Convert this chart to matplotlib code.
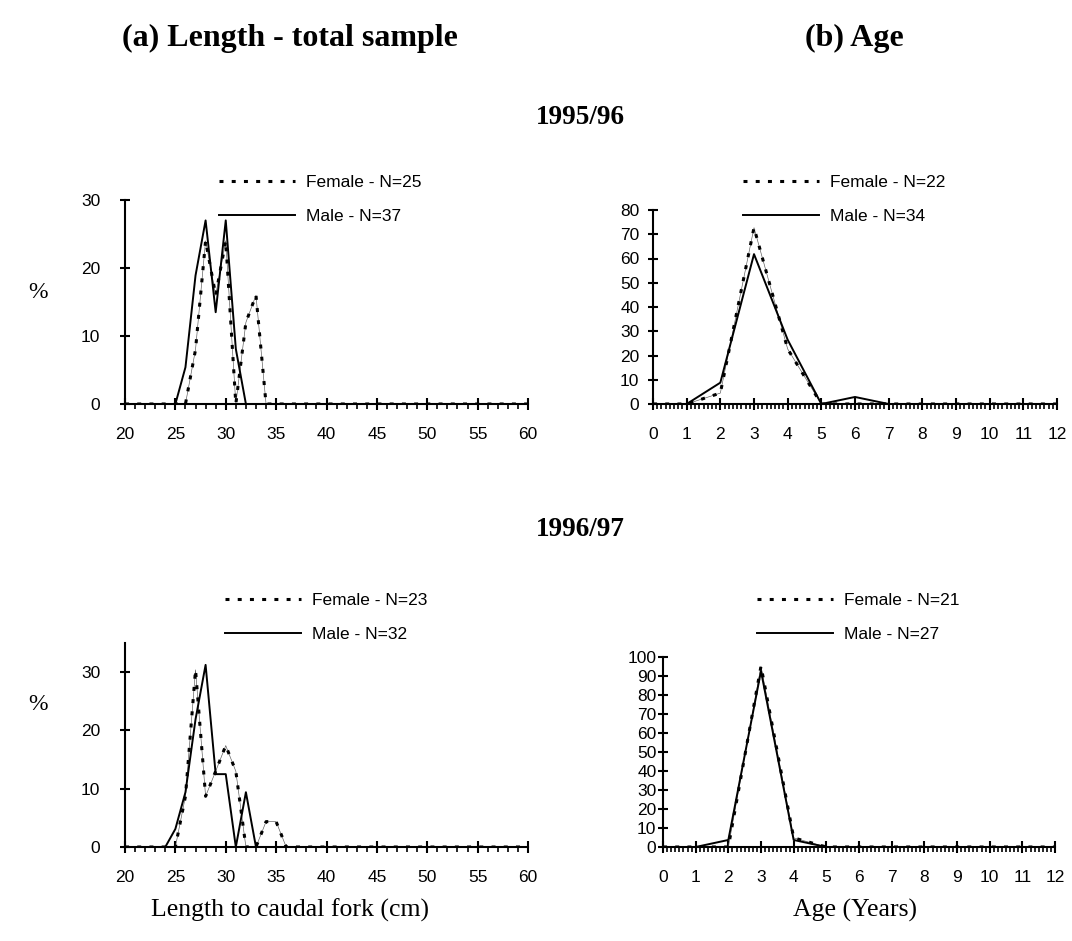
import numpy as np
import matplotlib
matplotlib.use("Agg")
import matplotlib.pyplot as plt
from matplotlib.ticker import MultipleLocator

# length classes (cm) and age classes (years)
length_cm = np.arange(20, 61)
age_yr = np.arange(0, 13)

# 1995/96 length (%), non-zero classes
len95_female = {27: 8.0, 28: 24.0, 29: 16.0, 30: 24.0, 31: 0.0, 32: 12.0, 33: 16.0}
len95_male = {26: 5.4, 27: 18.9, 28: 27.0, 29: 13.5, 30: 27.0, 31: 8.1}
# 1996/97 length (%)
len96_female = {26: 8.7, 27: 30.4, 28: 8.7, 29: 13.0, 30: 17.4, 31: 13.0, 34: 4.35, 35: 4.35}
len96_male = {25: 3.1, 26: 9.4, 27: 21.9, 28: 31.25, 29: 12.5, 30: 12.5, 32: 9.4}

# age (%), ages 0..12
age95_female = [0, 0, 4.5, 72.7, 22.7, 0, 0, 0, 0, 0, 0, 0, 0]
age95_male = [0, 0, 8.8, 61.8, 26.5, 0, 2.9, 0, 0, 0, 0, 0, 0]
age96_female = [0, 0, 0, 95.2, 4.8, 0, 0, 0, 0, 0, 0, 0, 0]
age96_male = [0, 0, 3.7, 92.6, 3.7, 0, 0, 0, 0, 0, 0, 0, 0]

n_labels = {
    "len95": ("Female - N=25", "Male - N=37"),
    "age95": ("Female - N=22", "Male - N=34"),
    "len96": ("Female - N=23", "Male - N=32"),
    "age96": ("Female - N=21", "Male - N=27"),
}

SANS = "Liberation Sans"
SERIF = "Liberation Serif"
W, H = 1072, 941
DOT = (0, (1.3, 2.7))


def expand(d):
    return [d.get(int(x), 0.0) for x in length_cm]


def px_box(l, t, r, b):
    return [l / W, 1 - b / H, (r - l) / W, (b - t) / H]


def draw_pair(ax, x, female, male):
    # excel-style dotted line: heavy dots over a hairline
    ax.plot(x, female, color="#555555", lw=0.45)
    ax.plot(x, female, color="black", lw=2.2, linestyle=DOT)
    ax.plot(x, male, color="black", lw=1.4)


def style_axis(ax, xlim, ylim, ystep, xminor, ypad):
    ax.set_xlim(*xlim)
    ax.set_ylim(*ylim)
    for s in ("top", "right"):
        ax.spines[s].set_visible(False)
    for s in ("left", "bottom"):
        ax.spines[s].set_linewidth(1.5)
    ax.yaxis.set_major_locator(MultipleLocator(ystep))
    ax.xaxis.set_minor_locator(MultipleLocator(xminor))
    ax.tick_params(axis="x", which="major", direction="inout", length=8.5, width=1.5, pad=12)
    ax.tick_params(axis="x", which="minor", direction="out", length=3.5, width=1.2)
    ax.tick_params(axis="y", which="major", direction="inout", length=7.5, width=1.5, pad=ypad)
    for lab in ax.get_xticklabels() + ax.get_yticklabels():
        lab.set_fontfamily(SANS)
        lab.set_fontsize(12.5)


def add_legend(ax, labels, x_px, y_px):
    handles = [
        plt.Line2D([], [], color="black", lw=2.2, linestyle=DOT),
        plt.Line2D([], [], color="black", lw=1.4),
    ]
    ax.legend(handles, labels, loc="upper left", bbox_to_anchor=(x_px / W, 1 - y_px / H),
              bbox_transform=ax.figure.transFigure, frameon=False, borderpad=0,
              borderaxespad=0, handlelength=4.4, handletextpad=0.6, labelspacing=1.1,
              prop={"family": SANS, "size": 12.5})


fig = plt.figure(figsize=(W / 100, H / 100), dpi=100)

# (a) length 1995/96
ax1 = fig.add_axes(px_box(125, 200, 528, 404))
draw_pair(ax1, length_cm, expand(len95_female), expand(len95_male))
ax1.set_xticks(np.arange(20, 61, 5))
style_axis(ax1, (20, 60), (0, 30), 10, 1, 14)
add_legend(ax1, n_labels["len95"], 219, 175)

# (b) age 1995/96
ax2 = fig.add_axes(px_box(653, 210, 1057, 404))
draw_pair(ax2, age_yr, age95_female, age95_male)
ax2.set_xticks(age_yr)
style_axis(ax2, (0, 12), (0, 80), 10, 0.125, 6)
add_legend(ax2, n_labels["age95"], 743, 175)

# (a) length 1996/97
ax3 = fig.add_axes(px_box(125, 643, 528, 847))
draw_pair(ax3, length_cm, expand(len96_female), expand(len96_male))
ax3.set_xticks(np.arange(20, 61, 5))
style_axis(ax3, (20, 60), (0, 35), 10, 1, 14)
ax3.set_yticks([0, 10, 20, 30])
add_legend(ax3, n_labels["len96"], 225, 593)

# (b) age 1996/97
ax4 = fig.add_axes(px_box(663, 657, 1055, 847))
draw_pair(ax4, age_yr, age96_female, age96_male)
ax4.set_xticks(age_yr)
style_axis(ax4, (0, 12), (0, 100), 10, 0.125, 1)
add_legend(ax4, n_labels["age96"], 757, 593)

# headings and axis titles
fig.text(290 / W, 1 - 38 / H, "(a) Length - total sample", ha="center", va="center",
         family=SERIF, weight="bold", fontsize=23)
fig.text(854 / W, 1 - 38 / H, "(b) Age", ha="center", va="center",
         family=SERIF, weight="bold", fontsize=23)
fig.text(580 / W, 1 - 117 / H, "1995/96", ha="center", va="center",
         family=SERIF, weight="bold", fontsize=19.5)
fig.text(580 / W, 1 - 530 / H, "1996/97", ha="center", va="center",
         family=SERIF, weight="bold", fontsize=19.5)
for y in (293, 705):
    fig.text(38 / W, 1 - y / H, "%", ha="center", va="center", family=SERIF, fontsize=17)
fig.text(290 / W, 1 - 910 / H, "Length to caudal fork (cm)", ha="center", va="center",
         family=SERIF, fontsize=18.5)
fig.text(855 / W, 1 - 910 / H, "Age (Years)", ha="center", va="center",
         family=SERIF, fontsize=18.5)

fig.savefig("out.png", dpi=100)
